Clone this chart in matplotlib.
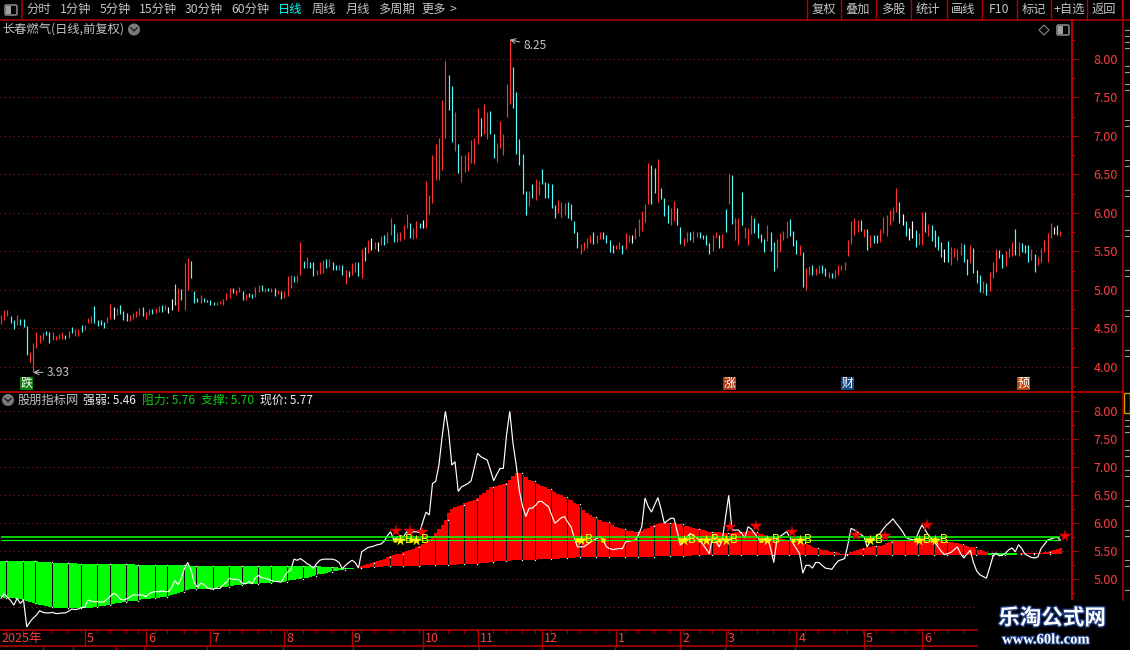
import matplotlib
matplotlib.use("Agg")
import matplotlib.pyplot as plt
import matplotlib.patheffects as pe
from matplotlib.patches import Rectangle, Circle, FancyBboxPatch, Polygon
from matplotlib.ticker import FixedLocator, MultipleLocator, FormatStrFormatter
import numpy as np

plt.rcParams['font.family'] = ['Noto Sans CJK SC', 'DejaVu Sans']

# ---------- data ----------
bar_high = [
4.68,4.74,4.74,4.66,4.61,4.68,4.62,4.62,4.53,4.19,
4.31,4.45,4.42,4.45,4.47,4.45,4.45,4.40,4.43,4.45,
4.42,4.47,4.52,4.49,4.49,4.55,4.55,4.64,4.66,4.79,
4.61,4.61,4.58,4.65,4.82,4.78,4.77,4.81,4.73,4.70,
4.68,4.70,4.73,4.77,4.78,4.71,4.75,4.75,4.77,4.79,
4.81,4.81,4.78,4.88,5.08,5.03,5.01,5.35,5.42,5.37,
4.99,4.90,4.94,4.90,4.87,4.87,4.84,4.84,4.86,4.88,
4.96,5.03,5.03,5.00,5.04,4.99,4.95,4.96,4.95,5.04,
5.07,5.07,5.03,5.03,5.03,5.03,5.00,4.99,4.99,5.18,
5.20,5.18,5.20,5.62,5.38,5.43,5.36,5.36,5.26,5.36,
5.39,5.40,5.40,5.36,5.32,5.32,5.32,5.26,5.25,5.35,
5.36,5.36,5.53,5.56,5.65,5.68,5.62,5.62,5.70,5.72,
5.75,5.94,5.86,5.74,5.75,5.85,5.99,5.87,5.81,5.89,
5.87,5.91,6.41,6.23,6.75,6.90,6.97,7.47,7.97,7.79,
7.65,7.31,6.90,6.75,6.75,6.79,6.95,6.97,7.36,7.23,
7.42,7.31,7.33,7.03,6.91,7.20,7.03,7.67,8.25,7.90,
7.57,6.96,6.77,6.29,6.29,6.37,6.44,6.42,6.57,6.40,
6.39,6.37,6.10,6.17,6.14,6.13,6.14,6.12,5.90,5.75,
5.60,5.62,5.68,5.72,5.75,5.72,5.75,5.75,5.72,5.65,
5.58,5.58,5.62,5.58,5.74,5.72,5.72,5.81,5.92,6.03,
6.12,6.65,6.62,6.58,6.70,6.32,6.19,6.10,6.06,6.16,
6.06,5.82,5.68,5.75,5.75,5.77,5.75,5.75,5.72,5.72,
5.61,5.72,5.75,5.72,5.73,6.05,6.50,6.49,5.94,5.94,
6.27,5.82,5.81,5.97,5.94,5.87,5.73,5.66,5.85,5.75,
5.62,5.66,5.74,5.77,5.89,5.92,5.77,5.65,5.58,5.49,
5.28,5.31,5.32,5.28,5.32,5.32,5.28,5.23,5.22,5.26,
5.32,5.33,5.36,5.65,5.89,5.94,5.91,5.91,5.79,5.79,
5.72,5.72,5.72,5.79,5.95,5.97,6.04,6.08,6.33,6.14,
5.99,5.90,5.81,5.89,5.78,5.74,6.01,6.01,5.86,5.85,
5.78,5.70,5.62,5.53,5.64,5.56,5.55,5.53,5.61,5.60,
5.40,5.58,5.55,5.26,5.19,5.12,5.09,5.23,5.36,5.53,
5.52,5.47,5.51,5.55,5.62,5.79,5.62,5.61,5.58,5.58,
5.53,5.47,5.43,5.55,5.65,5.74,5.87,5.82,5.85,5.77]

bar_low = [
4.56,4.61,4.66,4.57,4.49,4.55,4.55,4.52,4.16,4.06,
3.93,4.25,4.31,4.35,4.42,4.31,4.35,4.35,4.36,4.36,
4.36,4.38,4.44,4.40,4.40,4.45,4.48,4.57,4.57,4.57,
4.53,4.55,4.51,4.57,4.62,4.62,4.68,4.69,4.61,4.60,
4.60,4.62,4.65,4.68,4.66,4.62,4.68,4.69,4.70,4.71,
4.71,4.74,4.70,4.74,4.81,4.73,4.87,4.74,5.00,5.16,
4.83,4.84,4.83,4.84,4.84,4.81,4.81,4.81,4.82,4.81,
4.87,4.90,4.96,4.94,4.97,4.87,4.87,4.91,4.90,4.91,
4.97,4.99,4.97,4.99,4.97,4.92,4.95,4.88,4.90,4.92,
5.03,5.11,5.11,5.20,5.28,5.28,5.28,5.18,5.20,5.21,
5.22,5.28,5.30,5.26,5.26,5.26,5.20,5.08,5.17,5.20,
5.23,5.18,5.16,5.38,5.48,5.52,5.53,5.51,5.58,5.58,
5.61,5.72,5.62,5.62,5.64,5.66,5.81,5.68,5.66,5.68,
5.81,5.81,5.81,5.99,6.13,6.43,6.43,6.56,6.97,7.34,
6.92,6.81,6.52,6.40,6.53,6.54,6.65,6.64,6.90,7.00,
7.03,6.96,7.03,6.71,6.66,6.84,6.75,7.25,7.42,7.36,
6.77,6.62,6.25,5.97,6.09,6.19,6.17,6.23,6.37,6.19,
6.19,6.07,5.94,6.00,5.95,5.97,5.94,5.91,5.74,5.55,
5.47,5.52,5.55,5.61,5.60,5.61,5.66,5.66,5.61,5.49,
5.48,5.53,5.53,5.47,5.53,5.62,5.61,5.66,5.70,5.77,
5.88,6.12,6.11,6.26,6.14,6.18,5.96,5.87,5.84,5.90,
5.84,5.60,5.57,5.62,5.65,5.62,5.69,5.68,5.66,5.58,
5.47,5.51,5.68,5.55,5.55,5.75,6.12,5.86,5.65,5.58,
5.84,5.68,5.58,5.73,5.74,5.68,5.62,5.49,5.64,5.51,
5.25,5.28,5.49,5.65,5.68,5.70,5.57,5.47,5.45,5.04,
5.00,5.20,5.20,5.20,5.22,5.22,5.18,5.15,5.15,5.15,
5.20,5.26,5.26,5.44,5.60,5.72,5.75,5.77,5.69,5.52,
5.56,5.61,5.61,5.62,5.74,5.70,5.84,5.90,6.01,5.87,
5.84,5.70,5.65,5.68,5.56,5.58,5.58,5.75,5.70,5.64,
5.56,5.52,5.43,5.36,5.36,5.32,5.43,5.39,5.45,5.36,
5.20,5.35,5.22,5.09,4.97,4.96,4.94,4.99,5.15,5.23,
5.41,5.28,5.31,5.43,5.44,5.45,5.44,5.49,5.48,5.36,
5.39,5.23,5.32,5.36,5.49,5.36,5.68,5.73,5.72,5.70]

bar_dirs = list(
"RRRCCRCCCR" "RRRRCCRRRR" "CRCRRCRRRC" "CCCRRWRCCC" "RRRRCRRCRR"
"CRWWCRCRRC" "CCRCCCCRRR" "RRCRRCRCCR" "RCRCRCRCRR" "RCRRCRCCRR"
"RCRCCRCRCR" "RCRCRWRWRC" "RRCRRRRCRR" "CWRRRRRRRC" "CRCRRRRRRC"
"RRCCRRRRRC" "CCCCRCRRCC" "CCCRRRCCCC" "RRRRCRRCCC" "CRRCRRWRRR"
"RRCCRCCCRR" "CCRRCRRCCC" "CRRCRCRCRR" "CRRRCCCCRC" "CRRRRCCCRC"
"RRCRRCCRCR" "RRRRRRRCRC" "RCCRRRRRRC" "WCWWCRRCRC" "CCCWCRRRRC"
"CRCCCRCRRR" "CCRRRCRCCC" "RCRRRRRWCR")

close_price = [
4.66,4.74,4.68,4.62,4.54,4.66,4.57,4.63,4.15,4.24,
4.31,4.36,4.44,4.41,4.40,4.40,4.41,4.39,4.39,4.40,
4.40,4.43,4.47,4.46,4.47,4.50,4.50,4.63,4.61,4.60,
4.60,4.59,4.60,4.65,4.70,4.75,4.72,4.65,4.63,4.65,
4.68,4.72,4.72,4.72,4.72,4.69,4.74,4.77,4.78,4.78,
4.79,4.78,4.78,4.85,4.98,4.90,5.02,5.20,5.30,5.17,
4.94,4.86,4.93,4.91,4.85,4.83,4.83,4.84,4.84,4.90,
4.95,5.02,5.00,5.00,4.99,4.93,4.92,4.96,4.92,5.03,
5.07,5.03,5.02,5.00,4.98,4.96,4.96,4.95,5.05,5.13,
5.17,5.36,5.34,5.37,5.33,5.28,5.25,5.20,5.28,5.34,
5.36,5.36,5.36,5.36,5.34,5.30,5.19,5.25,5.30,5.34,
5.30,5.20,5.49,5.53,5.57,5.58,5.60,5.62,5.63,5.68,
5.78,5.85,5.70,5.75,5.78,5.76,5.85,5.80,5.85,5.85,
5.83,6.03,6.20,6.15,6.71,6.75,7.04,7.55,8.00,7.64,
7.04,7.10,6.57,6.65,6.68,6.71,6.76,7.00,7.25,7.19,
7.16,7.13,6.95,6.76,6.88,6.98,6.98,7.58,8.00,7.43,
7.04,6.57,6.30,6.12,6.27,6.27,6.32,6.39,6.39,6.34,
6.30,6.15,6.00,6.05,6.10,6.12,6.02,5.94,5.75,5.58,
5.58,5.58,5.62,5.66,5.70,5.73,5.77,5.70,5.58,5.55,
5.53,5.54,5.55,5.55,5.67,5.68,5.69,5.70,5.80,5.94,
6.45,6.30,6.20,6.33,6.46,6.25,6.00,6.05,6.09,6.09,
5.85,5.61,5.68,5.75,5.82,5.78,5.74,5.70,5.62,5.54,
5.46,5.79,5.68,5.58,5.70,6.10,6.50,5.88,5.88,5.88,
5.82,5.74,5.94,5.90,5.82,5.75,5.66,5.70,5.76,5.55,
5.30,5.73,5.77,5.81,5.85,5.75,5.64,5.55,5.46,5.11,
5.25,5.25,5.20,5.30,5.30,5.25,5.20,5.19,5.18,5.26,
5.33,5.35,5.37,5.62,5.91,5.88,5.84,5.80,5.76,5.58,
5.68,5.74,5.78,5.82,5.90,5.97,6.02,6.08,6.00,5.93,
5.85,5.75,5.72,5.71,5.70,5.85,5.97,5.88,5.79,5.72,
5.66,5.58,5.50,5.44,5.46,5.48,5.53,5.58,5.46,5.38,
5.45,5.52,5.30,5.15,5.08,5.05,5.02,5.20,5.40,5.47,
5.42,5.43,5.47,5.53,5.56,5.49,5.62,5.55,5.45,5.42,
5.39,5.38,5.40,5.55,5.62,5.70,5.72,5.74,5.75,5.70]

fast_line = [
4.68,4.67,4.67,4.66,4.66,4.65,4.64,4.63,4.61,4.60,
4.58,4.56,4.55,4.54,4.52,4.51,4.50,4.49,4.49,4.48,
4.48,4.48,4.48,4.48,4.48,4.48,4.48,4.49,4.49,4.50,
4.51,4.52,4.53,4.54,4.55,4.56,4.57,4.58,4.59,4.60,
4.61,4.61,4.62,4.63,4.64,4.65,4.65,4.66,4.67,4.67,
4.68,4.69,4.70,4.72,4.73,4.75,4.77,4.79,4.81,4.82,
4.82,4.83,4.83,4.83,4.83,4.83,4.84,4.85,4.86,4.87,
4.87,4.88,4.88,4.89,4.90,4.90,4.91,4.91,4.92,4.92,
4.92,4.93,4.93,4.94,4.94,4.95,4.95,4.95,4.96,4.97,
4.98,4.99,5.00,5.01,5.02,5.03,5.05,5.06,5.07,5.09,
5.10,5.12,5.13,5.14,5.15,5.16,5.17,5.18,5.19,5.19,
5.20,5.21,5.24,5.26,5.28,5.29,5.31,5.33,5.35,5.37,
5.39,5.41,5.43,5.45,5.46,5.48,5.50,5.52,5.54,5.57,
5.60,5.63,5.67,5.72,5.77,5.82,5.90,5.97,6.06,6.18,
6.26,6.29,6.31,6.33,6.36,6.38,6.40,6.42,6.46,6.51,
6.55,6.60,6.64,6.65,6.66,6.68,6.70,6.72,6.77,6.84,
6.89,6.89,6.87,6.83,6.78,6.75,6.72,6.70,6.67,6.64,
6.62,6.59,6.56,6.53,6.50,6.47,6.44,6.41,6.37,6.34,
6.29,6.24,6.19,6.15,6.12,6.09,6.06,6.03,6.02,6.00,
5.97,5.94,5.91,5.89,5.88,5.87,5.86,5.85,5.85,5.87,
5.90,5.92,5.95,5.97,5.99,6.00,6.00,6.00,6.00,6.00,
5.99,5.98,5.96,5.95,5.93,5.91,5.90,5.89,5.88,5.86,
5.85,5.84,5.84,5.84,5.83,5.83,5.83,5.83,5.84,5.84,
5.85,5.85,5.87,5.86,5.85,5.83,5.81,5.79,5.78,5.76,
5.75,5.74,5.73,5.72,5.71,5.71,5.70,5.68,5.67,5.65,
5.63,5.61,5.58,5.56,5.55,5.53,5.52,5.51,5.49,5.48,
5.47,5.46,5.45,5.46,5.49,5.51,5.52,5.54,5.56,5.57,
5.58,5.59,5.59,5.60,5.62,5.64,5.67,5.68,5.69,5.70,
5.71,5.71,5.71,5.70,5.70,5.70,5.70,5.70,5.69,5.69,
5.69,5.68,5.68,5.67,5.67,5.66,5.65,5.64,5.63,5.62,
5.60,5.58,5.57,5.54,5.52,5.50,5.48,5.43,5.43,5.43,
5.43,5.43,5.43,5.43,5.43,5.44,5.46,5.47,5.47,5.47,
5.47,5.47,5.47,5.47,5.48,5.49,5.50,5.52,5.54,5.56]

slow_line = [
5.33,5.33,5.33,5.33,5.33,5.33,5.33,5.33,5.32,5.32,
5.32,5.32,5.31,5.31,5.31,5.31,5.30,5.30,5.30,5.30,
5.30,5.29,5.29,5.29,5.28,5.28,5.28,5.28,5.28,5.28,
5.28,5.28,5.28,5.28,5.28,5.28,5.27,5.27,5.27,5.27,
5.27,5.27,5.26,5.26,5.26,5.26,5.26,5.25,5.25,5.25,
5.25,5.25,5.25,5.25,5.25,5.25,5.25,5.25,5.25,5.24,
5.24,5.24,5.24,5.24,5.24,5.24,5.24,5.24,5.24,5.24,
5.24,5.24,5.24,5.24,5.24,5.24,5.24,5.24,5.24,5.24,
5.24,5.24,5.24,5.24,5.24,5.24,5.24,5.24,5.24,5.24,
5.24,5.24,5.24,5.24,5.24,5.24,5.23,5.23,5.23,5.23,
5.22,5.22,5.22,5.22,5.22,5.21,5.21,5.21,5.21,5.21,
5.21,5.21,5.21,5.21,5.21,5.22,5.22,5.22,5.22,5.23,
5.23,5.23,5.23,5.23,5.24,5.24,5.24,5.24,5.24,5.24,
5.24,5.25,5.25,5.25,5.25,5.25,5.25,5.25,5.26,5.26,
5.26,5.26,5.27,5.27,5.27,5.27,5.27,5.28,5.28,5.29,
5.30,5.30,5.31,5.31,5.32,5.32,5.33,5.33,5.33,5.34,
5.34,5.35,5.35,5.35,5.35,5.35,5.35,5.36,5.36,5.36,
5.36,5.37,5.37,5.37,5.38,5.38,5.38,5.38,5.38,5.39,
5.39,5.39,5.39,5.39,5.39,5.39,5.39,5.39,5.39,5.39,
5.39,5.39,5.39,5.39,5.40,5.40,5.40,5.40,5.40,5.40,
5.40,5.40,5.40,5.41,5.41,5.41,5.41,5.41,5.42,5.42,
5.42,5.42,5.42,5.42,5.42,5.43,5.43,5.43,5.43,5.43,
5.43,5.43,5.43,5.43,5.43,5.43,5.43,5.43,5.43,5.43,
5.43,5.43,5.43,5.43,5.43,5.43,5.43,5.43,5.43,5.43,
5.44,5.44,5.44,5.44,5.44,5.44,5.44,5.44,5.44,5.44,
5.44,5.44,5.44,5.44,5.44,5.44,5.44,5.44,5.44,5.44,
5.44,5.44,5.44,5.44,5.44,5.44,5.44,5.44,5.44,5.44,
5.44,5.44,5.44,5.44,5.44,5.44,5.44,5.44,5.44,5.44,
5.44,5.44,5.44,5.44,5.44,5.44,5.44,5.44,5.44,5.44,
5.44,5.44,5.44,5.44,5.44,5.44,5.44,5.44,5.44,5.44,
5.44,5.44,5.44,5.44,5.44,5.44,5.44,5.47,5.47,5.47,
5.47,5.47,5.47,5.47,5.47,5.47,5.45,5.45,5.45,5.45,
5.45,5.45,5.45,5.45,5.45,5.45,5.45,5.45,5.45,5.45]

week_marks = [1,6,10,15,20,24,29,33,38,42,47,51,56,60,65,70,74,79,83,88,93,97,102,106,111,115,
              120,124,129,134,138,143,147,152,156,161,165,170,175,179,184,188,193,197,202,207,
              211,216,220,225,229,234,239,244,249,253,258,262,267,271,276,280,284,289,293,298,
              302,307,311,316,320,325]

resistance = 5.76
support = 5.70
strong_weak = 5.46
last_close = 5.77
signal_level = 5.71
red_star_days = [122.7,127,130.6,226.4,234.5,245.7,265.5,274.5,287.7,330.4]
red_star_vals = [5.86,5.87,5.85,5.94,5.95,5.84,5.80,5.78,5.97,5.77]
buy_days = [124,129,180,212,219,225,238,248,270,285,290]
dot_days = [122.4,127.3,178.8,186.8,211,217,223,236,246,269,284,289]

price_ticks = [4.0,4.5,5.0,5.5,6.0,6.5,7.0,7.5,8.0]
indicator_ticks = [4.5,5.0,5.5,6.0,6.5,7.0,7.5,8.0]
month_days = [26,45,65,88,109,131,148,168,191,211,225,247,268,286]
month_labels = ['5','6','7','8','9','10','11','12','1','2','3','4','5','6']
year_label = '2025年'

toolbar_left = [('分时',39),('1分钟',76),('5分钟',115),('15分钟',158),('30分钟',204),('60分钟',250),
                ('日线',290),('周线',324),('月线',358),('多周期',396),('更多',434)]
toolbar_right = [('复权',824),('叠加',858),('多股',893),('统计',928),('画线',963),('F10',999),
                 ('标记',1034),('+自选',1069),('返回',1104)]
toolbar_seps = [807,841,876,911,947,982,1017,1051,1087,1122]
event_tags = [('跌',26.5,'#0A7A0A'),('涨',729.5,'#A83A1A'),('财',847.5,'#1A4A80'),('预',1023.5,'#B84A10')]

assert len(bar_high)==len(bar_low)==len(bar_dirs)==len(close_price)==len(fast_line)==len(slow_line)==330

# ---------- layout helpers ----------
W, H = 1130, 650
fig = plt.figure(figsize=(W/100, H/100), dpi=100, facecolor='black')
def rect(l, t, r, b):
    return [l/W, 1-b/H, (r-l)/W, (b-t)/H]

AXC = '#B40000'
TXT = '#C4C4C4'
LBL = '#FF3C3C'
GRID = '#8A1C1C'
XLIM = (-0.31, 332.6)
days = np.arange(330)
high = np.array(bar_high); low = np.array(bar_low)
fast = np.array(fast_line); slow = np.array(slow_line)

def style_price_axis(ax, ticks):
    ax.set_facecolor('black')
    for s in ax.spines.values():
        s.set_visible(False)
    ax.spines['right'].set_visible(True)
    ax.spines['right'].set_color(AXC)
    ax.spines['right'].set_linewidth(1.5)
    ax.set_xlim(*XLIM)
    ax.xaxis.set_visible(False)
    ax.yaxis.tick_right()
    ax.yaxis.set_major_locator(FixedLocator(ticks))
    ax.yaxis.set_minor_locator(MultipleLocator(0.25))
    ax.yaxis.set_major_formatter(FormatStrFormatter('%.2f'))
    ax.tick_params(axis='y', which='major', length=4.3, width=0.8, color=AXC,
                   labelcolor=LBL, labelsize=9, pad=11)
    ax.tick_params(axis='y', which='minor', length=2.2, width=0.8, color=AXC)
    ax.grid(True, axis='y', which='major', color=GRID, linewidth=0.8, linestyle=(0, (1, 3)))
    ax.set_axisbelow(True)

# ---------- price panel ----------
ax = fig.add_axes(rect(0, 20, 1072, 391))
ax.set_ylim(3.688, 8.506)
style_price_axis(ax, price_ticks)
cmap = {'R': '#FF3232', 'C': '#54FCFC', 'W': '#FFFFFF'}
ax.vlines(days, low, high, colors=[cmap[d] for d in bar_dirs], linewidth=0.85)
ax.annotate('8.25', xy=(158, 8.25), xytext=(14, -6), textcoords='offset pixels', color=TXT,
            fontsize=8.6, va='center', ha='left',
            arrowprops=dict(arrowstyle='->', color=TXT, lw=0.7, shrinkA=1, shrinkB=0))
ax.annotate('3.93', xy=(10, 3.93), xytext=(14, 0), textcoords='offset pixels', color=TXT,
            fontsize=8.6, va='center', ha='left',
            arrowprops=dict(arrowstyle='->', color=TXT, lw=0.7, shrinkA=1, shrinkB=0))

# ---------- indicator panel ----------
ax2 = fig.add_axes(rect(0, 392, 1072, 630))
ax2.set_ylim(4.095, 8.345)
style_price_axis(ax2, indicator_ticks)
up = fast >= slow
ax2.bar(days[up], (fast-slow)[up], bottom=slow[up], width=1.02, color='#FF0000', linewidth=0)
ax2.bar(days[~up], (slow-fast)[~up], bottom=fast[~up], width=1.02, color='#00FF00', linewidth=0)
wm = np.array(week_marks)
wx = wm + 0.7
wtop = np.maximum(fast[wm], slow[wm]); wbot = np.minimum(fast[wm], slow[wm])
ax2.vlines(wx, wbot, wtop, colors='black', linewidth=0.75)
ax2.plot(wx, wtop, ls='none', marker='s', ms=0.9, mfc='white', mec='none')
ax2.plot(wx, wbot, ls='none', marker='s', ms=0.9, mfc='white', mec='none')
ax2.plot(days, close_price, color='white', lw=0.85, solid_joinstyle='miter')
ax2.hlines(resistance, 0, 329, colors='#00FF00', lw=1.15, zorder=4)
ax2.hlines(support, 0, 329, colors='#00FF00', lw=0.85, zorder=4)
ax2.plot(red_star_days, red_star_vals, ls='none', marker='*', ms=8.5, mfc='#FF0000', mec='#C00000', mew=0.3, zorder=5)
ax2.plot(dot_days, [signal_level]*len(dot_days), ls='none', marker='s', ms=3, mfc='#FFFF00', mec='none', zorder=5)
ax2.plot(buy_days, [signal_level]*len(buy_days), ls='none', marker='*', ms=8.5, mfc='#FFFF00', mec='none', zorder=5)
for d in buy_days:
    ax2.text(d+2.7, signal_level, 'B', color='#FFFF00', fontsize=8.5, ha='center', va='center',
             fontfamily='DejaVu Sans', zorder=5)

# ---------- time axis ----------
ax3 = fig.add_axes(rect(0, 630, 978, 646))
ax3.set_facecolor('black')
ax3.set_xlim(XLIM[0], XLIM[0] + (978/1072)*(XLIM[1]-XLIM[0]))
ax3.set_ylim(0, 1)
for n, s in ax3.spines.items():
    s.set_visible(n in ('top', 'bottom'))
    s.set_color(AXC); s.set_linewidth(1.2)
ax3.yaxis.set_visible(False)
ax3.set_xticks([w+0.7 for w in week_marks if w < 301])
ax3.xaxis.tick_top()
ax3.tick_params(axis='x', direction='in', length=2, width=0.7, color=AXC, labeltop=False, labelbottom=False)
ax3.vlines(month_days, 0, 1, colors=AXC, lw=1)
ax3.text(0.3, 0.45, year_label, color=LBL, fontsize=9, va='center', ha='left')
for d, t in zip(month_days, month_labels):
    ax3.text(d+0.6, 0.45, t, color=LBL, fontsize=9, va='center', ha='left')

# ---------- screen chrome overlay ----------
ui = fig.add_axes([0, 0, 1, 1], zorder=10)
ui.set_xlim(0, W); ui.set_ylim(H, 0); ui.axis('off'); ui.patch.set_alpha(0)
ui.add_patch(Rectangle((978, 600), 152, 50, fc='black', ec='none'))
ui.plot([0, W], [19.5, 19.5], color=AXC, lw=1.1)
ui.plot([0, 1123], [391.5, 391.5], color=AXC, lw=1.3)
ui.plot([21.5, 21.5], [0, 19], color=AXC, lw=1.1)
ui.plot([1123, 1123], [0, 600], color=AXC, lw=1.1)
for s in toolbar_seps:
    ui.plot([s, s], [0, 19], color=AXC, lw=1)
for t, x in toolbar_left:
    ui.text(x, 9.5, t, color='#00FFFF' if t == '日线' else TXT, fontsize=8.8, ha='center', va='center')
ui.text(453, 9, '>', color=TXT, fontsize=8.8, ha='center', va='center')
for t, x in toolbar_right:
    ui.text(x, 9.5, t, color=TXT, fontsize=8.8, ha='center', va='center')
for (x0, y0) in ((5, 5), (1057, 25)):
    ui.add_patch(FancyBboxPatch((x0, y0), 12, 10, boxstyle='round,pad=0,rounding_size=1.5',
                                fc='black', ec='#909090', lw=1.1))
    ui.add_patch(Rectangle((x0+1, y0+1), 5, 8, fc='#A0A0A0', ec='none'))
ui.add_patch(Polygon([(1044, 25), (1049, 30), (1044, 35), (1039, 30)], fc='none', ec='#8A8A8A', lw=0.8))
ui.text(2, 29.5, '长春燃气(日线,前复权)', color=TXT, fontsize=8.8, ha='left', va='center')
for cx, cy in ((134, 29.5), (8, 400)):
    ui.add_patch(Circle((cx, cy), 6, fc='#7A7A7A', ec='none'))
    ui.plot([cx-3, cx, cx+3], [cy-1.5, cy+1.5, cy-1.5], color='#1A1A1A', lw=1)
ui.text(18, 400, '股朋指标网', color=TXT, fontsize=8.8, ha='left', va='center')
ui.text(83, 400, f'强弱: {strong_weak:.2f}', color='#F0F0F0', fontsize=8.6, ha='left', va='center')
ui.text(142, 400, f'阻力: {resistance:.2f}', color='#10D010', fontsize=8.6, ha='left', va='center')
ui.text(201, 400, f'支撑: {support:.2f}', color='#10D010', fontsize=8.6, ha='left', va='center')
ui.text(260, 400, f'现价: {last_close:.2f}', color='#F0F0F0', fontsize=8.6, ha='left', va='center')
for t, x, c in event_tags:
    ui.add_patch(Rectangle((x-6.5, 377), 13, 12.5, fc=c, ec='none'))
    ui.text(x, 383, t, color='white', fontsize=8.6, ha='center', va='center')
# cropped side panel: only slivers of it show at the picture's edge
ui.add_patch(Rectangle((1124, 393), 6, 20, fc='none', ec='#C8A000', lw=1))
for y in (30, 36, 42, 48, 66, 72, 84, 90, 120, 126, 160, 166, 190, 196, 230, 236, 270, 276, 310, 316,
          350, 356, 420, 426, 432, 450, 456, 470, 476, 500, 506, 530, 536, 560, 566, 590):
    ui.plot([1125, 1130], [y, y], color='#9A9A9A', lw=0.8)
for x in (43, 73, 116, 144, 207, 283, 353, 423, 479, 542, 615, 680, 725, 795, 864, 922):
    ui.plot([x, x], [647, 650], color=AXC, lw=0.9)
# watermark
ui.text(1052, 618, '乐淘公式网', color='white', fontsize=15.5, fontweight='bold', ha='center', va='center',
        path_effects=[pe.withStroke(linewidth=2, foreground='#1A3A80')])
ui.text(1046, 640, 'www.60lt.com', color='white', fontsize=10.5, fontweight='bold',
        fontfamily='Liberation Serif', ha='center', va='center',
        path_effects=[pe.withStroke(linewidth=1.6, foreground='#1A3A80')])

fig.savefig('out.png', dpi=100, facecolor='black')
